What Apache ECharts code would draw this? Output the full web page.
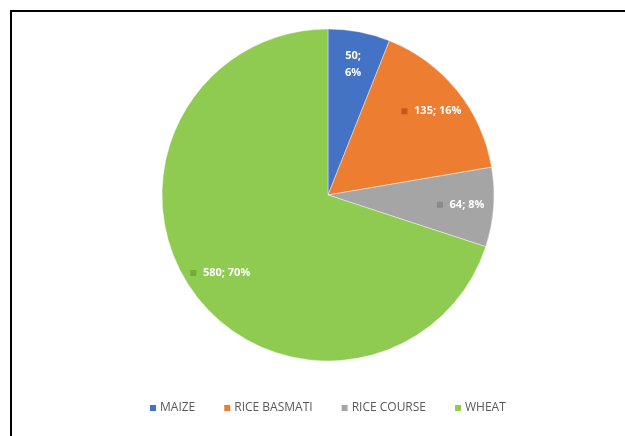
<!DOCTYPE html>
<html>
<head>
<meta charset="utf-8">
<script src="https://cdn.jsdelivr.net/npm/echarts@6/dist/echarts.min.js"></script>
<style>
  html, body { margin: 0; padding: 0; background: #fff; }
  #main { width: 625px; height: 436px; }
</style>
</head>
<body>
<div id="main"></div>
<script>
var crops = ['MAIZE', 'RICE BASMATI', 'RICE COURSE', 'WHEAT'];
var amounts = [50, 135, 64, 580];
var sliceColors = ['#4472c4', '#ed7d31', '#a5a5a5', '#8fcb50'];
var markerColors = ['#2f58a6', '#c9561a', '#8a8a8a', '#6fae33'];

var chart = echarts.init(document.getElementById('main'));

var total = amounts.reduce(function (a, b) { return a + b; }, 0);

var pieData = crops.map(function (name, i) {
    return { name: name, value: amounts[i], itemStyle: { color: sliceColors[i] } };
});

// transparent ring on top, only there to put the labels at ~3/4 of the radius
var labelData = crops.map(function (name, i) {
    var pct = Math.round(amounts[i] / total * 100);
    return {
        name: name,
        value: amounts[i],
        itemStyle: { color: 'rgba(0,0,0,0)' },
        label: {
            formatter: i === 0
                ? '{t|' + amounts[i] + ';}\n{t|' + pct + '%}'
                : '{m' + i + '|}  {t|' + amounts[i] + '; ' + pct + '%}'
        }
    };
});

var rich = { t: { color: '#fff', fontWeight: 'bold', fontSize: 11, fontFamily: 'Open Sans', lineHeight: 17 } };
markerColors.forEach(function (c, i) {
    rich['m' + i] = { width: 6, height: 6, backgroundColor: c };
});

chart.setOption({
    backgroundColor: '#fff',
    animation: false,
    color: sliceColors,
    graphic: [{
        type: 'rect',
        shape: { x: 11, y: 11, width: 800, height: 600 },
        style: { fill: null, stroke: '#000', lineWidth: 2 },
        silent: true
    }],
    legend: {
        data: crops,
        bottom: 17,
        left: 143,
        itemWidth: 8,
        itemHeight: 8,
        itemGap: 27,
        icon: 'rect',
        textStyle: { color: '#595959', fontSize: 12, fontFamily: 'Open Sans', padding: [0, 0, 0, -2] }
    },
    series: [{
        type: 'pie',
        center: [328, 195],
        radius: 166,
        startAngle: 90,
        clockwise: true,
        label: { show: false },
        labelLine: { show: false },
        itemStyle: { borderColor: '#ffffff', borderWidth: 0.4 },
        emphasis: { disabled: true },
        data: pieData
    }, {
        type: 'pie',
        center: [328, 195],
        radius: [94, 166],
        startAngle: 90,
        clockwise: true,
        silent: true,
        legendHoverLink: false,
        label: { show: true, position: 'inside', rich: rich },
        labelLine: { show: false },
        emphasis: { disabled: true },
        data: labelData
    }]
});
</script>
</body>
</html>
